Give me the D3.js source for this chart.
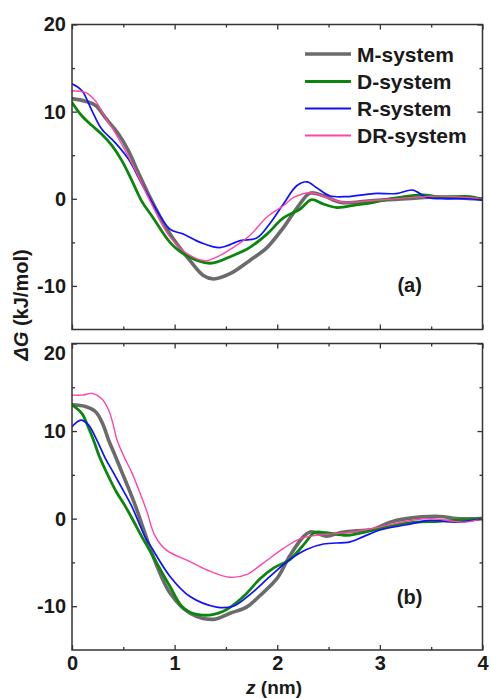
<!DOCTYPE html>
<html>
<head>
<meta charset="utf-8">
<script src="https://cdn.jsdelivr.net/npm/d3@7"></script>
<style>
  html, body { margin: 0; padding: 0; background: #fff; }
  svg { display: block; }
  text { font-family: "Liberation Sans", Arial, sans-serif; font-weight: bold; fill: #1a1a1a; }
</style>
</head>
<body>
<svg id="chart" width="491" height="698"></svg>
<script>
// Free-energy profiles ΔG(z) for the four systems, panels (a) and (b)
const seriesNames = ["M-system", "D-system", "R-system", "DR-system"];
const seriesColors = ["#6b6b6b", "#0a870a", "#1010ff", "#ff45a5"];
const seriesWidths = [3.6, 2.8, 1.7, 1.4];

// Panel (a)
const zM_a = [0, 0.13, 0.23, 0.325, 0.455, 0.55, 0.65, 0.78, 0.955, 1.15, 1.28, 1.38, 1.54, 1.73, 1.9, 2.06, 2.22, 2.32, 2.45, 2.61, 2.77, 2.94, 3.26, 3.58, 3.9, 4.0];
const gM_a = [11.5, 11.2, 10.7, 9.3, 7.4, 5.5, 2.9, -0.3, -4.05, -7.1, -8.8, -9.2, -8.6, -7.1, -5.6, -3.3, -0.6, 0.65, 0.35, -0.4, -0.4, -0.2, 0, 0.2, 0, 0];
const zD_a = [0, 0.097, 0.195, 0.29, 0.39, 0.487, 0.585, 0.68, 0.78, 0.955, 1.085, 1.344, 1.57, 1.73, 1.9, 2.06, 2.22, 2.335, 2.45, 2.58, 2.77, 2.94, 3.1, 3.42, 3.58, 3.88, 4.0];
const gD_a = [11.05, 9.5, 8.4, 7.4, 6.1, 4.35, 2.06, -0.3, -2.0, -5.0, -6.3, -7.4, -6.5, -5.6, -4.05, -2.2, -1.2, -0.1, -0.6, -1.0, -0.7, -0.4, 0, 0.45, 0.2, 0.25, -0.1];
const zR_a = [0, 0.097, 0.195, 0.29, 0.42, 0.55, 0.68, 0.81, 0.955, 1.085, 1.25, 1.44, 1.64, 1.8, 1.93, 2.06, 2.19, 2.29, 2.38, 2.51, 2.68, 2.94, 3.16, 3.32, 3.46, 3.65, 3.9, 4.0];
const gR_a = [13.2, 12.4, 10.1, 8.0, 6.45, 4.55, 1.7, -1.0, -3.5, -4.05, -5.0, -5.6, -4.8, -4.5, -2.8, -0.6, 1.5, 1.95, 1.3, 0.35, 0.25, 0.6, 0.6, 1.0, 0.15, 0, 0, -0.2];
const zDR_a = [0, 0.13, 0.23, 0.325, 0.42, 0.52, 0.62, 0.75, 0.955, 1.15, 1.31, 1.57, 1.73, 1.9, 2.06, 2.16, 2.32, 2.48, 2.64, 2.94, 3.26, 3.58, 4.0];
const gDR_a = [12.4, 12.2, 11.2, 9.3, 7.6, 5.5, 3.2, 0.0, -4.4, -6.5, -7.1, -5.6, -4.25, -2.1, -0.8, 0.15, 0.7, 0.15, -0.4, -0.2, 0.1, 0.3, 0];

// Panel (b)
const zM_b = [0, 0.13, 0.23, 0.3, 0.357, 0.42, 0.49, 0.55, 0.62, 0.72, 0.78, 0.955, 1.15, 1.38, 1.54, 1.70, 1.83, 2.0, 2.12, 2.26, 2.33, 2.48, 2.61, 2.77, 2.94, 3.1, 3.26, 3.58, 3.75, 4.0];
const gM_b = [13.0, 12.8, 12.2, 10.8, 8.95, 7.2, 5.2, 3.5, 1.4, -2.0, -4.0, -8.5, -10.8, -11.5, -10.8, -10.1, -8.8, -6.8, -4.3, -2.0, -1.5, -2.0, -1.6, -1.4, -1.2, -0.4, 0, 0.25, 0, 0];
const zD_b = [0, 0.097, 0.16, 0.21, 0.27, 0.34, 0.43, 0.52, 0.6, 0.68, 0.76, 0.955, 1.085, 1.25, 1.47, 1.67, 1.83, 1.97, 2.12, 2.27, 2.36, 2.48, 2.68, 2.94, 3.26, 3.58, 3.9, 4.0];
const gD_b = [13.0, 12.0, 10.4, 8.95, 7.0, 5.2, 3.1, 1.4, -0.3, -2.05, -3.7, -7.75, -10.2, -11.0, -10.6, -8.9, -6.9, -5.6, -4.7, -2.8, -1.6, -1.6, -1.9, -1.3, -0.5, -0.3, -0.1, 0];
const zR_b = [0, 0.087, 0.16, 0.243, 0.32, 0.406, 0.5, 0.583, 0.71, 0.76, 0.955, 1.15, 1.41, 1.57, 1.73, 1.93, 2.12, 2.29, 2.45, 2.71, 2.84, 3.0, 3.26, 3.49, 3.75, 4.0];
const gR_b = [10.5, 11.25, 10.7, 8.95, 7.0, 5.2, 3.2, 1.4, -2.05, -3.0, -6.6, -8.9, -10.1, -10.0, -8.7, -6.6, -4.7, -3.5, -2.9, -2.65, -2.05, -1.3, -0.7, -0.2, -0.4, 0];
const zDR_b = [0, 0.1, 0.195, 0.29, 0.357, 0.4, 0.438, 0.51, 0.585, 0.66, 0.73, 0.81, 0.92, 1.15, 1.344, 1.54, 1.70, 1.86, 2.06, 2.22, 2.38, 2.68, 2.94, 3.26, 3.5, 3.82, 4.0];
const gDR_b = [14.1, 14.1, 14.3, 13.7, 12.4, 10.8, 9.0, 7.0, 5.2, 3.0, 0.8, -2.0, -3.6, -4.9, -6.0, -6.7, -6.4, -5.1, -3.4, -2.3, -1.9, -1.6, -1.1, -0.3, 0, -0.4, 0];

// Axis ticks
const xMajor = [0, 1, 2, 3, 4];
const xMinor = [0.5, 1.5, 2.5, 3.5];
const yMajor = [-10, 0, 10, 20];
const yMinor = [-5, 5, 15];
const xDomain = [0, 4];
const yDomain = [-15, 20];
const panelTags = ["(a)", "(b)"];

const panels = [
  { tag: panelTags[0], top: 24.5, bottom: 329.5, showX: false,
    series: [[zM_a, gM_a], [zD_a, gD_a], [zR_a, gR_a], [zDR_a, gDR_a]] },
  { tag: panelTags[1], top: 343.5, bottom: 650, showX: true,
    series: [[zM_b, gM_b], [zD_b, gD_b], [zR_b, gR_b], [zDR_b, gDR_b]] }
];

const svg = d3.select("#chart");
const left = 72, right = 482.5;
const x = d3.scaleLinear().domain(xDomain).range([left, right]);
const axisColor = "#333";
const plainNumber = d => String(d);   // hyphen-minus, as in the printed labels

panels.forEach((p, pi) => {
  const y = d3.scaleLinear().domain(yDomain).range([p.bottom, p.top]);
  const g = svg.append("g");

  // curves
  const clipId = "clip" + pi;
  svg.append("clipPath").attr("id", clipId)
    .append("rect").attr("x", left).attr("y", p.top).attr("width", right - left).attr("height", p.bottom - p.top);
  const line = d3.line().x(d => x(d[0])).y(d => y(d[1])).curve(d3.curveCatmullRom.alpha(0.5));
  const curves = g.append("g").attr("clip-path", `url(#${clipId})`);
  p.series.forEach((s, i) => {
    const pts = s[0].map((z, k) => [z, s[1][k]]);
    curves.append("path").datum(pts)
      .attr("d", line)
      .attr("fill", "none")
      .attr("stroke", seriesColors[i])
      .attr("stroke-width", seriesWidths[i])
      .attr("stroke-linejoin", "round")
      .attr("stroke-linecap", "round");
  });

  const styleAxis = sel => {
    sel.select(".domain").remove();
    sel.selectAll(".tick line").attr("stroke", axisColor).attr("stroke-width", 1.3);
    sel.selectAll("text").attr("font-size", 20).attr("fill", "#1a1a1a")
      .attr("font-family", "'Liberation Sans', Arial, sans-serif").attr("font-weight", "bold");
  };

  // left axis
  g.append("g").attr("transform", `translate(${left},0)`)
    .call(d3.axisLeft(y).tickValues(yMajor).tickSize(-5).tickPadding(6).tickFormat(plainNumber))
    .call(styleAxis)
    .call(sel => sel.selectAll(".tick text").filter(d => pi === 1 && d === 20).attr("dy", "0.8em"));
  g.append("g").attr("transform", `translate(${left},0)`)
    .call(d3.axisLeft(y).tickValues(yMinor).tickSize(-3).tickFormat(""))
    .call(styleAxis);
  // right axis
  g.append("g").attr("transform", `translate(${right},0)`)
    .call(d3.axisRight(y).tickValues(yMajor).tickSize(-5).tickFormat(""))
    .call(styleAxis);
  g.append("g").attr("transform", `translate(${right},0)`)
    .call(d3.axisRight(y).tickValues(yMinor).tickSize(-3).tickFormat(""))
    .call(styleAxis);
  // top axis
  g.append("g").attr("transform", `translate(0,${p.top})`)
    .call(d3.axisTop(x).tickValues(xMajor).tickSize(-5).tickFormat(""))
    .call(styleAxis);
  g.append("g").attr("transform", `translate(0,${p.top})`)
    .call(d3.axisTop(x).tickValues(xMinor).tickSize(-3).tickFormat(""))
    .call(styleAxis);
  // bottom axis
  g.append("g").attr("transform", `translate(0,${p.bottom})`)
    .call(d3.axisBottom(x).tickValues(xMajor).tickSize(-5).tickPadding(6)
      .tickFormat(p.showX ? plainNumber : ""))
    .call(styleAxis);
  g.append("g").attr("transform", `translate(0,${p.bottom})`)
    .call(d3.axisBottom(x).tickValues(xMinor).tickSize(-3).tickFormat(""))
    .call(styleAxis);

  // frame
  g.append("rect").attr("x", left).attr("y", p.top)
    .attr("width", right - left).attr("height", p.bottom - p.top)
    .attr("fill", "none").attr("stroke", axisColor).attr("stroke-width", 1.5);

  // panel tag
  g.append("text").attr("x", x(3.29)).attr("y", y(pi === 0 ? -10.7 : -9.8))
    .attr("text-anchor", "middle").attr("font-size", 20).text(p.tag);
});

// legend
const legend = svg.append("g");
const legendRows = [54, 81.5, 108.5, 135.5];
seriesNames.forEach((name, i) => {
  legend.append("line").attr("x1", 305).attr("x2", 351)
    .attr("y1", legendRows[i]).attr("y2", legendRows[i])
    .attr("stroke", seriesColors[i]).attr("stroke-width", Math.max(seriesWidths[i], 2));
  legend.append("text").attr("x", 357).attr("y", legendRows[i] + 7.5)
    .attr("font-size", 21).text(name);
});

// axis titles
const yTitle = svg.append("text")
  .attr("transform", "translate(28,305) rotate(-90)")
  .attr("text-anchor", "middle").attr("font-size", 20);
yTitle.append("tspan").attr("font-style", "italic").text("ΔG");
yTitle.append("tspan").text(" (kJ/mol)");

const xTitle = svg.append("text").attr("x", 274).attr("y", 694)
  .attr("text-anchor", "middle").attr("font-size", 19);
xTitle.append("tspan").attr("font-style", "italic").text("z");
xTitle.append("tspan").text(" (nm)");
</script>
</body>
</html>
